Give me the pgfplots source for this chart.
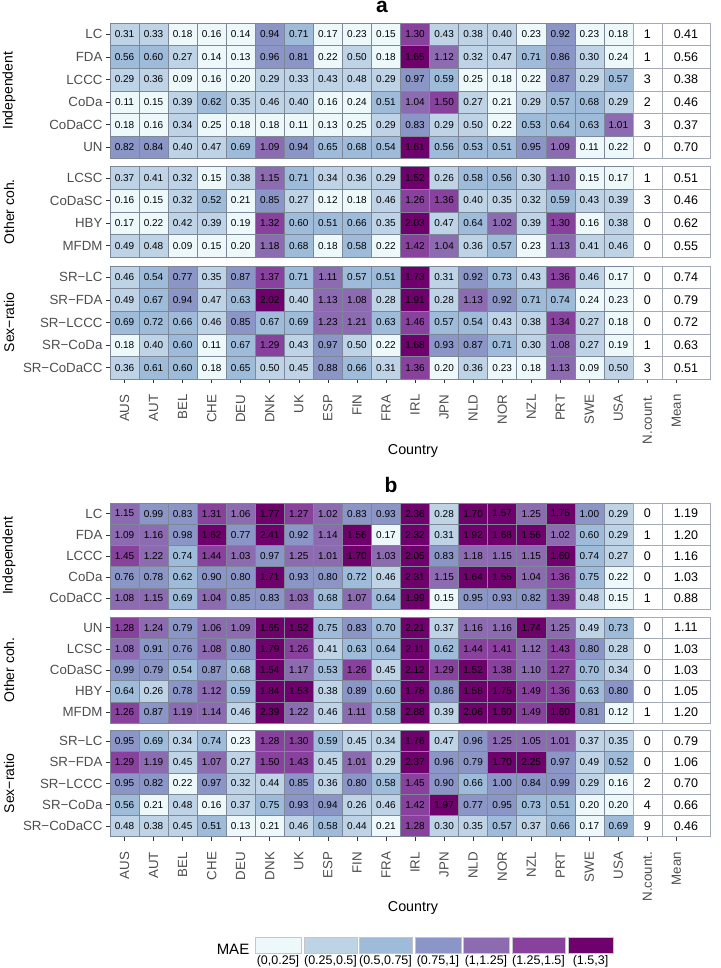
\documentclass[border=0pt]{standalone}
\usepackage{pgfplots}
\pgfplotsset{compat=1.18}
\usepackage{pgfplotstable}
\usepackage{fontspec}
\setmainfont{Liberation Sans}
\definecolor{mae1}{HTML}{EDF8FB}
\definecolor{mae2}{HTML}{BFD3E6}
\definecolor{mae3}{HTML}{9EBCDA}
\definecolor{mae4}{HTML}{8C96C6}
\definecolor{mae5}{HTML}{8C6BB1}
\definecolor{mae6}{HTML}{88419D}
\definecolor{mae7}{HTML}{6E016B}
\definecolor{cellborder}{HTML}{7D8797}
\definecolor{framecol}{HTML}{333333}
\definecolor{axtext}{HTML}{4D4D4D}
\pgfdeclareplotmark{cellA}{\pgfpathrectangle{\pgfqpoint{-14.525pt}{-11.3pt}}{\pgfqpoint{29.05pt}{22.6pt}}\pgfusepathqfillstroke}
\pgfdeclareplotmark{cellB}{\pgfpathrectangle{\pgfqpoint{-14.525pt}{-10.6pt}}{\pgfqpoint{29.05pt}{21.2pt}}\pgfusepathqfillstroke}
\pgfdeclareplotmark{meanA}{\pgfpathrectangle{\pgfqpoint{-23.95pt}{-11.3pt}}{\pgfqpoint{47.9pt}{22.6pt}}\pgfusepathqfillstroke}
\pgfdeclareplotmark{meanB}{\pgfpathrectangle{\pgfqpoint{-23.95pt}{-10.6pt}}{\pgfqpoint{47.9pt}{21.2pt}}\pgfusepathqfillstroke}
\newcommand\axfont{\fontsize{13.3}{14}\selectfont}

% columns c0..c17 = AUS AUT BEL CHE DEU DNK UK ESP FIN FRA IRL JPN NLD NOR NZL PRT SWE USA
% ---------------- panel a ----------------
\pgfplotstableread{
m c0 c1 c2 c3 c4 c5 c6 c7 c8 c9 c10 c11 c12 c13 c14 c15 c16 c17 n mean
LC 0.31 0.33 0.18 0.16 0.14 0.94 0.71 0.17 0.23 0.15 1.30 0.43 0.38 0.40 0.23 0.92 0.23 0.18 1 0.41
FDA 0.56 0.60 0.27 0.14 0.13 0.96 0.81 0.22 0.50 0.18 1.65 1.12 0.32 0.47 0.71 0.86 0.30 0.24 1 0.56
LCCC 0.29 0.36 0.09 0.16 0.20 0.29 0.33 0.43 0.48 0.29 0.97 0.59 0.25 0.18 0.22 0.87 0.29 0.57 3 0.38
CoDa 0.11 0.15 0.39 0.62 0.35 0.46 0.40 0.16 0.24 0.51 1.04 1.50 0.27 0.21 0.29 0.57 0.68 0.29 2 0.46
CoDaCC 0.18 0.16 0.34 0.25 0.18 0.18 0.11 0.13 0.25 0.29 0.83 0.29 0.50 0.22 0.53 0.64 0.63 1.01 3 0.37
UN 0.82 0.84 0.40 0.47 0.69 1.09 0.94 0.65 0.68 0.54 1.61 0.56 0.53 0.51 0.95 1.09 0.11 0.22 0 0.70
}\aI
\pgfplotstableread{
m c0 c1 c2 c3 c4 c5 c6 c7 c8 c9 c10 c11 c12 c13 c14 c15 c16 c17 n mean
LCSC 0.37 0.41 0.32 0.15 0.38 1.15 0.71 0.34 0.36 0.29 1.52 0.26 0.58 0.56 0.30 1.10 0.15 0.17 1 0.51
CoDaSC 0.16 0.15 0.32 0.52 0.21 0.85 0.27 0.12 0.18 0.46 1.26 1.36 0.40 0.35 0.32 0.59 0.43 0.39 3 0.46
HBY 0.17 0.22 0.42 0.39 0.19 1.32 0.60 0.51 0.66 0.35 2.03 0.47 0.64 1.02 0.39 1.30 0.16 0.38 0 0.62
MFDM 0.49 0.48 0.09 0.15 0.20 1.18 0.68 0.18 0.58 0.22 1.42 1.04 0.36 0.57 0.23 1.13 0.41 0.46 0 0.55
}\aO
\pgfplotstableread{
m c0 c1 c2 c3 c4 c5 c6 c7 c8 c9 c10 c11 c12 c13 c14 c15 c16 c17 n mean
SRLC 0.46 0.54 0.77 0.35 0.87 1.37 0.71 1.11 0.57 0.51 1.73 0.31 0.92 0.73 0.43 1.36 0.46 0.17 0 0.74
SRFDA 0.49 0.67 0.94 0.47 0.63 2.02 0.40 1.13 1.08 0.28 1.91 0.28 1.13 0.92 0.71 0.74 0.24 0.23 0 0.79
SRLCCC 0.69 0.72 0.66 0.46 0.85 0.67 0.69 1.23 1.21 0.63 1.46 0.57 0.54 0.43 0.38 1.34 0.27 0.18 0 0.72
SRCoDa 0.18 0.40 0.60 0.11 0.67 1.29 0.43 0.97 0.50 0.22 1.68 0.93 0.87 0.71 0.30 1.08 0.27 0.19 1 0.63
SRCoDaCC 0.36 0.61 0.60 0.18 0.65 0.50 0.45 0.88 0.66 0.31 1.36 0.20 0.36 0.23 0.18 1.13 0.09 0.50 3 0.51
}\aS
% ---------------- panel b ----------------
\pgfplotstableread{
m c0 c1 c2 c3 c4 c5 c6 c7 c8 c9 c10 c11 c12 c13 c14 c15 c16 c17 n mean
LC 1.15 0.99 0.83 1.31 1.06 1.77 1.27 1.02 0.83 0.93 2.36 0.28 1.70 1.57 1.25 1.75 1.00 0.29 0 1.19
FDA 1.09 1.16 0.98 1.62 0.77 2.41 0.92 1.14 1.56 0.17 2.32 0.31 1.92 1.68 1.56 1.02 0.60 0.29 1 1.20
LCCC 1.45 1.22 0.74 1.44 1.03 0.97 1.25 1.01 1.70 1.03 2.05 0.83 1.18 1.15 1.15 1.60 0.74 0.27 0 1.16
CoDa 0.76 0.78 0.62 0.90 0.80 1.71 0.93 0.80 0.72 0.46 2.31 1.15 1.64 1.55 1.04 1.36 0.75 0.22 0 1.03
CoDaCC 1.08 1.15 0.69 1.04 0.85 0.83 1.03 0.68 1.07 0.64 1.99 0.15 0.95 0.93 0.82 1.39 0.48 0.15 1 0.88
}\bI
\pgfplotstableread{
m c0 c1 c2 c3 c4 c5 c6 c7 c8 c9 c10 c11 c12 c13 c14 c15 c16 c17 n mean
UN 1.28 1.24 0.79 1.06 1.09 1.65 1.52 0.75 0.83 0.70 2.21 0.37 1.16 1.16 1.74 1.25 0.49 0.73 0 1.11
LCSC 1.08 0.91 0.76 1.08 0.80 1.79 1.26 0.41 0.63 0.64 2.11 0.62 1.44 1.41 1.12 1.43 0.80 0.28 0 1.03
CoDaSC 0.99 0.79 0.54 0.87 0.68 1.54 1.17 0.53 1.26 0.45 2.12 1.29 1.52 1.38 1.10 1.27 0.70 0.34 0 1.03
HBY 0.64 0.26 0.78 1.12 0.59 1.84 1.53 0.38 0.89 0.60 1.78 0.86 1.58 1.75 1.49 1.36 0.63 0.80 0 1.05
MFDM 1.26 0.87 1.19 1.14 0.46 2.39 1.22 0.46 1.11 0.58 2.88 0.39 2.06 1.60 1.49 1.60 0.81 0.12 1 1.20
}\bO
\pgfplotstableread{
m c0 c1 c2 c3 c4 c5 c6 c7 c8 c9 c10 c11 c12 c13 c14 c15 c16 c17 n mean
SRLC 0.95 0.69 0.34 0.74 0.23 1.28 1.30 0.59 0.45 0.34 1.76 0.47 0.96 1.25 1.05 1.01 0.37 0.35 0 0.79
SRFDA 1.29 1.19 0.45 1.07 0.27 1.50 1.43 0.45 1.01 0.29 2.37 0.96 0.79 1.70 2.25 0.97 0.49 0.52 0 1.06
SRLCCC 0.95 0.82 0.22 0.97 0.32 0.44 0.85 0.36 0.80 0.58 1.45 0.90 0.66 1.00 0.84 0.99 0.29 0.16 2 0.70
SRCoDa 0.56 0.21 0.48 0.16 0.37 0.75 0.93 0.94 0.26 0.46 1.42 1.97 0.77 0.95 0.73 0.51 0.20 0.20 4 0.66
SRCoDaCC 0.48 0.38 0.45 0.51 0.13 0.21 0.46 0.58 0.44 0.21 1.28 0.30 0.35 0.57 0.37 0.66 0.17 0.69 9 0.46
}\bS

\pgfplotsset{
  colormap={mae}{rgb255=(237,248,251) rgb255=(191,211,230) rgb255=(158,188,218)
    rgb255=(140,150,198) rgb255=(140,107,177) rgb255=(136,65,157) rgb255=(110,1,107)},
  facet/.style={scale only axis, width=599.8825pt, xmin=-0.5, xmax=20.15,
    y dir=reverse, axis on top, clip=false, anchor=north west,
    colormap name=mae, point meta min=0, point meta max=6,
    axis line style={draw=framecol, line width=0.9pt},
    tick align=outside, major tick length=4pt,
    tick style={draw=framecol, line width=0.6pt},
    xtick pos=left, ytick pos=left, minor tick num=0,
    yticklabel style={font=\axfont, text=axtext},
    xticklabel style={font=\axfont, text=axtext, rotate=90, anchor=east},
    xticklabel shift=8pt},
  xbottom/.style={xtick={0,...,19},
    xticklabels={AUS,AUT,BEL,CHE,DEU,DNK,UK,ESP,FIN,FRA,IRL,JPN,NLD,NOR,NZL,PRT,SWE,USA,N.count.,Mean}},
  xnone/.style={xtick=\empty},
  celltext/.style={draw=none, mark=none,
      nodes near coords style={anchor=center, inner sep=0pt, text=black, font=#1}},
}

\newcommand\facetcells[3]{%
  \pgfplotsinvokeforeach{0,...,17}{%
    \addplot[only marks, scatter, mark=#2,
      scatter/use mapped color={draw=cellborder, fill=mapped color},
      mark options={line width=0.5pt, solid},
      point meta={min(6,max(0,floor(4*\thisrow{c##1}-0.0001)))}]
      table[x expr=##1, y expr=\coordindex+1] {#1};
    \addplot[celltext={\fontsize{10}{11}\selectfont},
      visualization depends on={\thisrow{c##1}\as\cellv},
      nodes near coords={\pgfmathprintnumber[fixed,fixed zerofill,precision=2,assume math mode=true]{\cellv}}]
      table[x expr=##1, y expr=\coordindex+1] {#1};
  }%
  \addplot[only marks, mark=#2, mark options={draw=cellborder!70, fill=white, line width=0.5pt, solid}]
    table[x expr=18, y expr=\coordindex+1] {#1};
  \addplot[celltext={\fontsize{12.5}{13}\selectfont},
      visualization depends on={\thisrow{n}\as\cellv},
      nodes near coords={\pgfmathprintnumber[fixed,precision=0,assume math mode=true]{\cellv}}]
    table[x expr=18, y expr=\coordindex+1] {#1};
  \addplot[only marks, mark=#3, mark options={draw=cellborder!70, fill=white, line width=0.5pt, solid}]
    table[x expr=19.325, y expr=\coordindex+1] {#1};
  \addplot[celltext={\fontsize{12.5}{13}\selectfont},
      visualization depends on={\thisrow{mean}\as\cellv},
      nodes near coords={\pgfmathprintnumber[fixed,fixed zerofill,precision=2,assume math mode=true]{\cellv}}]
    table[x expr=19.325, y expr=\coordindex+1] {#1};
}

\begin{document}
\begin{tikzpicture}
\path[use as bounding box] (0,0) rectangle (720pt,-968pt);

% ===== panel a =====
\begin{axis}[facet, xnone, at={(110pt,-23pt)}, height=135.6pt, ymin=0.5, ymax=6.5,
  ytick={1,...,6}, yticklabels={LC,FDA,LCCC,CoDa,CoDaCC,UN}]
\facetcells{\aI}{cellA}{meanA}
\end{axis}
\begin{axis}[facet, xnone, at={(110pt,-166.6pt)}, height=90.4pt, ymin=0.5, ymax=4.5,
  ytick={1,...,4}, yticklabels={LCSC,CoDaSC,HBY,MFDM}]
\facetcells{\aO}{cellA}{meanA}
\end{axis}
\begin{axis}[facet, xbottom, at={(110pt,-266pt)}, height=113pt, ymin=0.5, ymax=5.5,
  ytick={1,...,5}, yticklabels={SR−LC,SR−FDA,SR−LCCC,SR−CoDa,SR−CoDaCC}]
\facetcells{\aS}{cellA}{meanA}
\end{axis}

% ===== panel b =====
\begin{axis}[facet, xnone, at={(110pt,-503pt)}, height=106pt, ymin=0.5, ymax=5.5,
  ytick={1,...,5}, yticklabels={LC,FDA,LCCC,CoDa,CoDaCC}]
\facetcells{\bI}{cellB}{meanB}
\end{axis}
\begin{axis}[facet, xnone, at={(110pt,-617pt)}, height=106pt, ymin=0.5, ymax=5.5,
  ytick={1,...,5}, yticklabels={UN,LCSC,CoDaSC,HBY,MFDM}]
\facetcells{\bO}{cellB}{meanB}
\end{axis}
\begin{axis}[facet, xbottom, at={(110pt,-730.5pt)}, height=106pt, ymin=0.5, ymax=5.5,
  ytick={1,...,5}, yticklabels={SR−LC,SR−FDA,SR−LCCC,SR−CoDa,SR−CoDaCC}]
\facetcells{\bS}{cellB}{meanB}
\end{axis}

% titles, strips, axis titles
\node[font=\bfseries\fontsize{21}{22}\selectfont, anchor=base] at (382pt,-13pt) {a};
\node[font=\bfseries\fontsize{21}{22}\selectfont, anchor=base] at (391pt,-492pt) {b};
\begin{scope}[every node/.style={rotate=90, font=\fontsize{14}{15}\selectfont}]
\node at (9pt,-90.8pt) {Independent};
\node at (9pt,-211.8pt) {Other coh.};
\node at (9pt,-322.5pt) {Sex−ratio};
\node at (9pt,-556pt) {Independent};
\node at (9pt,-670pt) {Other coh.};
\node at (9pt,-783.5pt) {Sex−ratio};
\end{scope}
\node[font=\fontsize{14.3}{15}\selectfont] at (413pt,-451pt) {Country};
\node[font=\fontsize{14.3}{15}\selectfont] at (413pt,-908pt) {Country};

% legend
\node[font=\fontsize{15}{16}\selectfont] at (233pt,-949pt) {MAE};
\foreach \i/\a/\b/\lab in {1/255/301/{(0,0.25]},2/304/357/{(0.25,0.5]},3/359/412/{(0.5,0.75]},
  4/415/461/{(0.75,1]},5/463/509/{(1,1.25]},6/512/565/{(1.25,1.5]},7/568/613/{(1.5,3]}}{
  \pgfmathsetmacro\cx{(\a+\b)/2}
  \path[fill=mae\i, draw=gray!45, line width=0.4pt] (\a pt,-937pt) rectangle (\b pt,-953pt);
  \node[font=\fontsize{12.5}{13}\selectfont, inner sep=0pt] at (\cx pt,-961.5pt) {\lab};
}
\end{tikzpicture}
\end{document}
